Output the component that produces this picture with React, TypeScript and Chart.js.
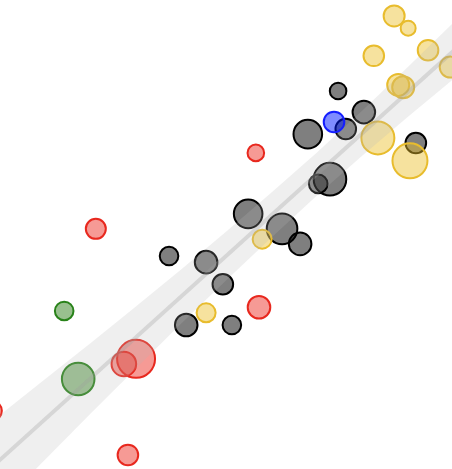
import { useEffect, useRef } from 'react';
import { Chart, registerables } from 'chart.js';

Chart.register(...registerables);

// bubbles: x, y in chart units (0-100), r in px
const grayX = [74.8, 80.5, 68.1, 76.5, 92.0, 73.0, 70.4, 54.9, 62.4, 66.4, 37.4, 45.6, 49.3, 41.2, 51.3];
const grayY = [80.6, 76.1, 71.4, 72.5, 69.5, 61.8, 60.8, 54.4, 51.2, 48.0, 45.4, 44.1, 39.4, 30.7, 30.7];
const grayR = [8.3, 11.3, 14.3, 10.3, 10.3, 16.3, 9.3, 14.3, 15.3, 11.3, 9.3, 11.3, 10.3, 11.3, 9.3];

const yellowX = [87.2, 90.3, 82.7, 94.7, 99.6, 88.1, 89.2, 83.6, 90.7, 58.0, 45.6];
const yellowY = [96.6, 94.0, 88.1, 89.3, 85.7, 81.9, 81.4, 70.6, 65.7, 49.0, 33.3];
const yellowR = [10.5, 7.5, 10.3, 10.3, 10.5, 11, 11, 16.5, 17.5, 9.5, 9.5];

const redX = [56.6, 21.2, 57.3, 30.1, 27.4, -1.8, 28.3];
const redY = [67.4, 51.2, 34.5, 23.5, 22.4, 12.4, 3.0];
const redR = [8.3, 10, 11.3, 19, 12.3, 10, 10.3];

const greenX = [14.2, 17.3];
const greenY = [33.7, 19.2];
const greenR = [9.3, 16.3];

const blueX = [73.9];
const blueY = [74.0];
const blueR = [10.3];

// fit line + confidence band
const fitX = [-2, 102];
const fitY = [0.2, 90.6];
const bandX = [0, 10, 20, 30, 40, 50, 60, 70, 80, 90, 100];
const bandLo = [-7.7, 2.0, 11.8, 21.4, 30.9, 40.2, 49.3, 58.2, 66.7, 74.9, 82.9];
const bandHi = [11.5, 19.2, 26.8, 34.6, 42.5, 50.6, 58.9, 67.4, 76.3, 85.5, 94.9];

const pts = (xs: number[], ys: number[], rs?: number[]) =>
  xs.map((x, i) => (rs ? { x, y: ys[i], r: rs[i] } : { x, y: ys[i] }));

function bub(label: string, xs: number[], ys: number[], rs: number[], bg: string, bc: string, order: number) {
  return {
    type: 'bubble' as const, label, order,
    data: pts(xs, ys, rs),
    backgroundColor: bg, borderColor: bc, borderWidth: 2,
  };
}

export default function App() {
  const ref = useRef<HTMLCanvasElement>(null);
  const ci = useRef<Chart | null>(null);

  useEffect(() => {
    if (!ref.current) return;
    ci.current?.destroy();
    ci.current = new Chart(ref.current, {
      type: 'bubble',
      data: {
        datasets: [
          { type: 'line', label: 'lo', order: 0, data: pts(bandX, bandLo), borderColor: 'transparent', borderWidth: 0, pointRadius: 0, fill: false },
          { type: 'line', label: 'hi', order: 0, data: pts(bandX, bandHi), borderColor: 'transparent', borderWidth: 0, pointRadius: 0, fill: '-1', backgroundColor: 'rgba(180,180,180,0.22)' },
          { type: 'line', label: 'fit', order: 0, data: pts(fitX, fitY), borderColor: 'rgba(150,150,150,0.3)', borderWidth: 4, pointRadius: 0, fill: false },
          bub('yellow', yellowX, yellowY, yellowR, 'rgba(236,190,40,0.45)', 'rgb(232,188,45)', 1),
          bub('blue', blueX, blueY, blueR, 'rgba(0,25,255,0.5)', 'rgb(20,30,255)', 2),
          bub('red', redX, redY, redR, 'rgba(235,40,30,0.47)', 'rgb(232,40,30)', 3),
          bub('green', greenX, greenY, greenR, 'rgba(50,130,30,0.5)', 'rgb(40,130,25)', 3),
          bub('gray', grayX, grayY, grayR, 'rgba(0,0,0,0.5)', '#000', 4),
        ] as any,
      },
      options: {
        animation: false,
        responsive: true, maintainAspectRatio: false,
        events: [],
        layout: { padding: 0, autoPadding: false },
        plugins: { legend: { display: false }, tooltip: { enabled: false } },
        scales: {
          x: { type: 'linear', min: 0, max: 100, display: false },
          y: { type: 'linear', min: 0, max: 100, display: false },
        },
      },
    });
    return () => { ci.current?.destroy(); ci.current = null; };
  }, []);

  return (
    <div style={{ position: 'fixed', left: 0, top: 0, width: 452, height: 469, background: '#fff' }}>
      <canvas ref={ref} />
    </div>
  );
}
